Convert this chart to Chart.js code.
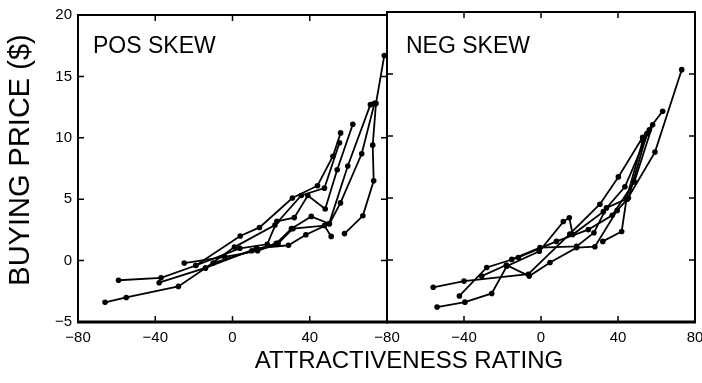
<!DOCTYPE html>
<html>
<head>
<meta charset="utf-8">
<script src="https://cdn.jsdelivr.net/npm/chart.js@4/dist/chart.umd.min.js"></script>
<style>
    body { margin: 0; width: 702px; height: 383px; overflow: hidden; background: #fff; position: relative; }
    #posChart { position: absolute; left: 0; top: 0; }
    #negChart { position: absolute; left: 367px; top: 0; }
    #xTitle {
        position: absolute; top: 346px; left: 409px; transform: translateX(-50%);
        font: 24px "Liberation Sans", Arial, sans-serif; white-space: nowrap; color: #000;
    }
</style>
</head>
<body>
<canvas id="posChart" width="388" height="383"></canvas>
<canvas id="negChart" width="350" height="383"></canvas>
<div id="xTitle">ATTRACTIVENESS RATING</div>
<script>
// Axis settings
const xMin = -80, xMax = 80;
const posXTicks = [-80, -40, 0, 40];        // the left panel's 80 is hidden under the right panel's -80
const negXTicks = [-80, -40, 0, 40, 80];
const yTicks = [-5, 0, 5, 10, 15, 20];
const xTickMarks = [-40, 0, 40];
const yTickMarks = [0, 5, 10, 15];

// POS SKEW subjects: [attractiveness rating, buying price]
const pos1 = [[58, 2.2], [67.5, 3.65], [73.1, 6.5], [72.6, 9.4], [74.3, 12.8], [78.6, 16.7]];
const pos2 = [[-66, -3.4], [-55, -3.0], [-28, -2.1], [-14, -0.6], [12.4, 1.0], [29, 1.25], [38, 2.1], [50, 3.0], [59.7, 7.7], [71.4, 12.7]];
const pos3 = [[-59, -1.6], [-37, -1.4], [-19, -0.4], [4, 2.0], [14, 2.7], [31, 5.1], [44, 6.1], [52, 8.5], [56, 10.4]];
const pos4 = [[-38, -1.8], [-14, -0.6], [1, 1.1], [22, 2.9], [35.6, 5.3], [47.6, 5.9], [55.4, 9.6]];
const pos5 = [[-25, -0.2], [-4, 0.3], [13, 0.8], [23.6, 1.4], [31.3, 2.6], [47.6, 2.85], [51.1, 1.97]];
const pos6 = [[-19, -0.4], [3.8, 1.0], [18, 1.33], [23, 3.2], [32, 3.5], [39, 5.3], [48, 4.2], [54.2, 7.4], [62.3, 11.1]];
const pos7 = [[-10, -0.2], [10, 0.8], [22.7, 1.4], [30.5, 2.6], [40.8, 3.6], [50.2, 3.0], [55.9, 4.7], [66.9, 8.7], [73.5, 12.8]];

// NEG SKEW subjects
const neg1 = [[-56, -2.2], [-40, -1.7], [-6.6, -1.15], [15, 2.1], [30.6, 4.5], [40.2, 6.7], [52.8, 9.9], [63.2, 12.0]];
const neg2 = [[-54, -3.8], [-39.5, -3.4], [-25.6, -2.7], [-17.8, -0.5], [-0.9, 0.7], [11.6, 3.1], [14.7, 3.4], [16.5, 2.05], [32.4, 3.9], [43.6, 5.9], [56.3, 10.5]];
const neg3 = [[-42.4, -2.9], [-28.2, -0.6], [-11.8, 0.2], [8, 1.5], [24.6, 2.45], [37, 3.6], [48.5, 6.3], [58, 10.9]];
const neg4 = [[-30.8, -1.3], [-18, -0.4], [-6.1, -1.3], [4.7, -0.2], [18.5, 1.0], [28, 1.07], [39.6, 4.0], [44.8, 4.9], [59.2, 8.7], [73.1, 15.35]];
const neg5 = [[32.1, 1.5], [41.9, 2.3], [44.5, 5.0], [52.8, 9.6]];
const neg6 = [[-15.2, 0.05], [-0.5, 1.0], [18.5, 1.1], [27.5, 2.2], [34, 4.2], [45.4, 5.0], [55, 10.2]];

const fontFamily = '"Liberation Sans", Arial, sans-serif';

// Frame, inward tick marks, panel label and (left panel only) the y title
const framePlugin = {
    id: 'frame',
    afterDatasetsDraw(chart, args, opts) {
        const ctx = chart.ctx;
        const a = chart.chartArea;
        const xs = chart.scales.x;
        const ys = chart.scales.y;

        ctx.save();
        ctx.strokeStyle = '#000';
        ctx.lineWidth = 2;
        ctx.strokeRect(a.left, a.top, a.right - a.left, a.bottom - a.top);

        // Thicker bottom axis
        ctx.lineWidth = 3;
        ctx.beginPath();
        ctx.moveTo(a.left - 1, a.bottom);
        ctx.lineTo(a.right + 1, a.bottom);
        ctx.stroke();

        ctx.lineWidth = 1.5;
        ctx.beginPath();
        xTickMarks.forEach(v => {
            const px = xs.getPixelForValue(v);
            ctx.moveTo(px, a.bottom);
            ctx.lineTo(px, a.bottom - 6);
            ctx.moveTo(px, a.top);
            ctx.lineTo(px, a.top + 6);
        });
        yTickMarks.forEach(v => {
            const py = ys.getPixelForValue(v);
            ctx.moveTo(a.left, py);
            ctx.lineTo(a.left + 6, py);
            ctx.moveTo(a.right, py);
            ctx.lineTo(a.right - 6, py);
        });
        ctx.stroke();

        ctx.fillStyle = '#000';
        ctx.font = '23px ' + fontFamily;
        ctx.textBaseline = 'alphabetic';
        ctx.fillText(opts.label, a.left + opts.labelX, 53);

        if (opts.yTitle) {
            ctx.translate(21, 160);
            ctx.rotate(-Math.PI / 2);
            ctx.font = '29px ' + fontFamily;
            ctx.textAlign = 'center';
            ctx.textBaseline = 'middle';
            ctx.fillText(opts.yTitle, 0, 0);
        }
        ctx.restore();
    }
};

function makeDatasets(series) {
    return series.map(s => ({
        data: s.map(p => ({ x: p[0], y: p[1] })),
        showLine: true,
        borderColor: '#000',
        borderWidth: 1.8,
        pointRadius: 2.8,
        pointBackgroundColor: '#000',
        pointBorderColor: '#000',
        pointBorderWidth: 0
    }));
}

function minusSign(v) {
    return v < 0 ? '\u2212' + Math.abs(v) : String(v);
}

function makeChart(canvasId, series, panel) {
    return new Chart(document.getElementById(canvasId), {
        type: 'scatter',
        data: { datasets: makeDatasets(series) },
        plugins: [framePlugin],
        options: {
            responsive: false,
            animation: false,
            devicePixelRatio: 1,
            layout: {
                autoPadding: false,
                padding: { top: 12, left: 0, bottom: 0, right: panel.padRight }
            },
            plugins: {
                legend: { display: false },
                tooltip: { enabled: false },
                frame: { label: panel.label, labelX: panel.labelX, yTitle: panel.yTitle }
            },
            scales: {
                x: {
                    type: 'linear',
                    min: xMin,
                    max: xMax,
                    afterBuildTicks: scale => { scale.ticks = panel.xTicks.map(v => ({ value: v })); },
                    afterFit: scale => { scale.height = 61; },
                    grid: { display: false, drawTicks: false },
                    border: { display: false },
                    ticks: {
                        padding: 7,
                        color: '#000',
                        font: { family: fontFamily, size: 15 },
                        callback: v => minusSign(v)
                    }
                },
                y: {
                    type: 'linear',
                    min: yTicks[0],
                    max: yTicks[yTicks.length - 1],
                    afterBuildTicks: scale => { scale.ticks = yTicks.map(v => ({ value: v })); },
                    afterFit: scale => { scale.width = panel.yWidth; },
                    grid: { display: false, drawTicks: false },
                    border: { display: false },
                    ticks: {
                        display: panel.showY,
                        padding: 6,
                        color: '#000',
                        font: { family: fontFamily, size: 15 },
                        callback: v => minusSign(v)
                    }
                }
            }
        }
    });
}

makeChart('posChart', [pos1, pos2, pos3, pos4, pos5, pos6, pos7],
    { label: 'POS SKEW', labelX: 15, padRight: 1, yWidth: 78, showY: true, xTicks: posXTicks,
      yTitle: 'BUYING PRICE ($)' });
makeChart('negChart', [neg1, neg2, neg3, neg4, neg5, neg6],
    { label: 'NEG SKEW', labelX: 19, padRight: 22, yWidth: 20, showY: false, xTicks: negXTicks,
      yTitle: '' });
</script>
</body>
</html>
